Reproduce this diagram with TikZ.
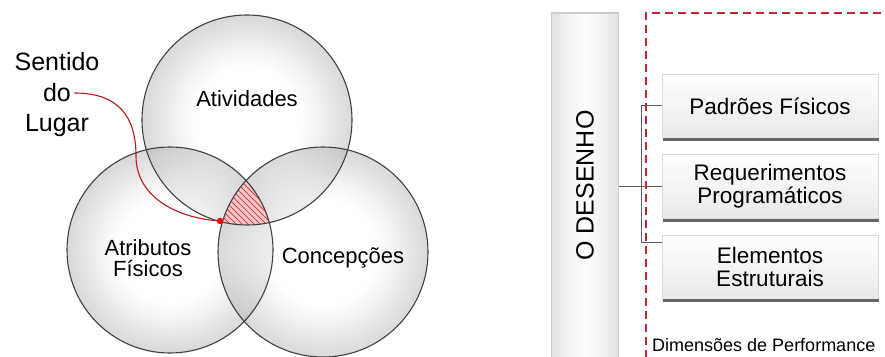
\documentclass[tikz,border=0pt]{standalone}
\usepackage{fontspec}
\setmainfont{Liberation Sans}
\usetikzlibrary{positioning}
\definecolor{lugarred}{RGB}{185,25,35}
\definecolor{framered}{RGB}{195,40,50}
\pgfdeclareradialshading{bubbleshade}{\pgfpoint{0bp}{0bp}}{color(0bp)=(white); color(13bp)=(white);
  color(25bp)=(gray!60); color(50bp)=(gray!60)}
\begin{document}
\begin{tikzpicture}[x=1pt, y=1pt,
  bubble/.style={shading=bubbleshade, fill opacity=.5},
  rim/.style={draw=black!75, line width=1.1pt},
  venntext/.style={font=\fontsize{22}{21}\selectfont, align=center},
  lugartext/.style={font=\fontsize{25}{25}\selectfont},
  bar/.style={draw=gray!40, line width=1.2pt, left color=gray!22, right color=gray!22, middle color=white,
    minimum width=67pt, minimum height=345pt, inner sep=0pt, font=\fontsize{25}{25}\selectfont},
  dimbox/.style={draw=gray!30, top color=white, bottom color=gray!18, minimum width=216pt, minimum height=64pt,
    align=center, font=\fontsize{22.5}{23}\selectfont},
  boxshadow/.style={fill=black!60},
  fork/.style={draw=gray!75!black, line width=1pt},
  dashframe/.style={draw=framered, line width=2.2pt, dash pattern=on 8pt off 5pt}]
\useasboundingbox (0,0) rectangle (885,356);

% the three circles
\coordinate (ativ) at (247,236);
\coordinate (atrib) at (170,106);
\coordinate (conc) at (323,104);
\shade[bubble] (ativ) circle (105);
\shade[bubble] (atrib) circle (103);
\shade[bubble] (conc) circle (105);

% sense of place, hatched
\begin{scope}
  \clip (ativ) circle (105);
  \clip (atrib) circle (103);
  \clip (conc) circle (105);
  \fill[red!22] (200,120) rectangle (290,190);
  \foreach \k in {0,...,20}
    \draw[lugarred!80, line width=.8pt] (160+6*\k,190) -- ++(60,-60);
\end{scope}

\draw[rim] (ativ) circle (105);
\draw[rim] (atrib) circle (103);
\draw[rim] (conc) circle (105);

\node[venntext] (atividades) at (247,257) {Atividades};
\node[venntext] (atributos) at (148,98) {Atributos\\Físicos};
\node[venntext] (concepcoes) at (343,98) {Concepções};

\node[lugartext] (sentido) at (57,294) {Sentido};
\node[lugartext] (do) at (57,263) {do};
\node[lugartext] (lugar) at (57,231) {Lugar};

\coordinate (ponto) at (220,135);
\draw[lugarred, line width=1.1pt] (do.east) .. controls (118,263) and (136,240) .. (136,200)
  .. controls (136,160) and (175,138) .. (ponto);
\fill[red] (ponto) circle (3.2);

% design panel
\node[bar] (desenho) at (585,170.5) {\rotatebox{90}{O DESENHO}};

\node[dimbox] (padroes) at (770,250) {Padrões Físicos};
\node[dimbox, below=16pt of padroes] (requer) {Requerimentos\\Programáticos};
\node[dimbox, below=16pt of requer] (elem) {Elementos\\Estruturais};
\foreach \b in {padroes,requer,elem}
  \fill[boxshadow] ([xshift=1pt]\b.south west) rectangle ([xshift=1pt,yshift=-3pt]\b.south east);

\coordinate (split) at (641,170);
\draw[fork] (desenho.east |- requer.west) -- (requer.west);
\draw[fork] ([yshift=-8pt]elem.north west) -| (split |- padroes.west) -- (padroes.west);

\draw[dashframe] (646,-2) -- (646,343) -- (890,343);
\node[anchor=base west, font=\fontsize{18}{18}\selectfont, inner sep=0pt] (dimensoes) at (652,4.5) {Dimensões de Performance};

\end{tikzpicture}
\end{document}
